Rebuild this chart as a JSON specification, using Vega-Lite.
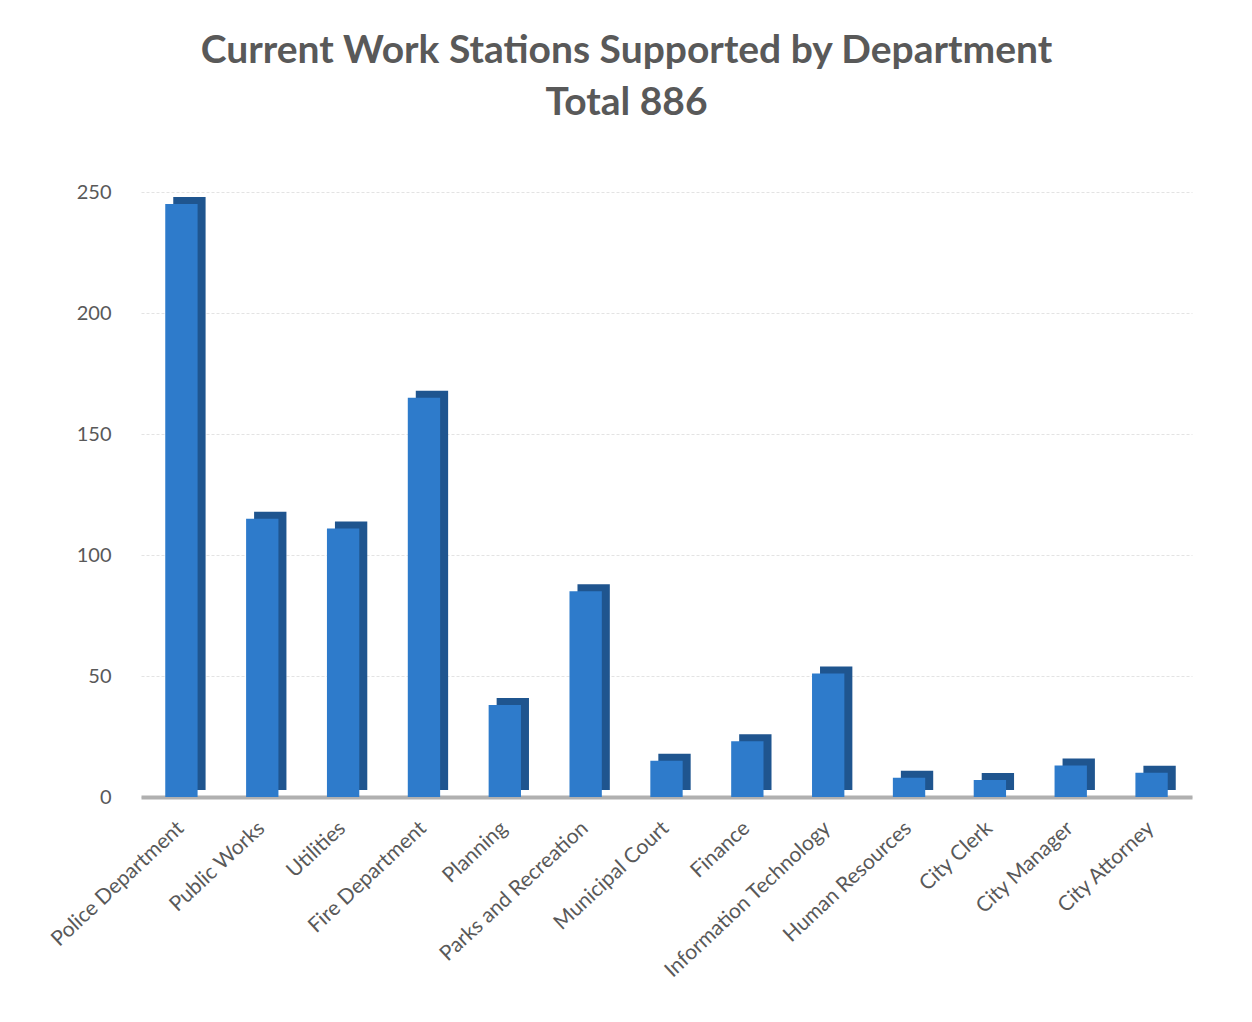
{
  "$schema": "https://vega.github.io/schema/vega-lite/v6.json",
  "autosize": {"type": "none"},
  "width": 1051,
  "height": 605,
  "padding": {"left": 141, "top": 192, "right": 60, "bottom": 225},
  "background": "white",
  "config": {"view": {"stroke": null}},
  "title": {
    "text": ["Current Work Stations Supported by Department", "Total 886"],
    "font": "Lato",
    "fontSize": 39,
    "fontWeight": "bold",
    "color": "#595959",
    "lineHeight": 52,
    "anchor": "middle",
    "dx": -40,
    "offset": 59
  },
  "data": {
    "values": [
      {"department": "Police Department", "stations": 245},
      {"department": "Public Works", "stations": 115},
      {"department": "Utilities", "stations": 111},
      {"department": "Fire Department", "stations": 165},
      {"department": "Planning", "stations": 38},
      {"department": "Parks and Recreation", "stations": 85},
      {"department": "Municipal Court", "stations": 15},
      {"department": "Finance", "stations": 23},
      {"department": "Information Technology", "stations": 51},
      {"department": "Human Resources", "stations": 8},
      {"department": "City Clerk", "stations": 7},
      {"department": "City Manager", "stations": 13},
      {"department": "City Attorney", "stations": 10}
    ]
  },
  "encoding": {
    "x": {
      "field": "department",
      "type": "nominal",
      "sort": null,
      "title": null,
      "scale": {"paddingInner": 0.6, "paddingOuter": 0.3},
      "axis": {
        "labelAngle": -43,
        "labelFont": "Lato",
        "labelFontSize": 21,
        "labelColor": "#595959",
        "labelPadding": 20,
        "labelLimit": 400,
        "labelOffset": -8,
        "ticks": false,
        "domainColor": "#b0b0b0",
        "domainWidth": 4
      }
    },
    "y": {
      "field": "stations",
      "type": "quantitative",
      "title": null,
      "scale": {"domain": [0, 250]},
      "axis": {
        "values": [0, 50, 100, 150, 200, 250],
        "labelFont": "Lato",
        "labelFontSize": 20,
        "labelColor": "#595959",
        "labelPadding": 30,
        "ticks": false,
        "domain": false,
        "gridColor": "#e3e3e3",
        "gridDash": [3, 2],
        "gridWidth": 1
      }
    }
  },
  "layer": [
    {
      "mark": {"type": "bar", "color": "#1F558F", "xOffset": 8, "yOffset": -7}
    },
    {
      "mark": {"type": "bar", "color": "#2E7BCB"}
    }
  ]
}
